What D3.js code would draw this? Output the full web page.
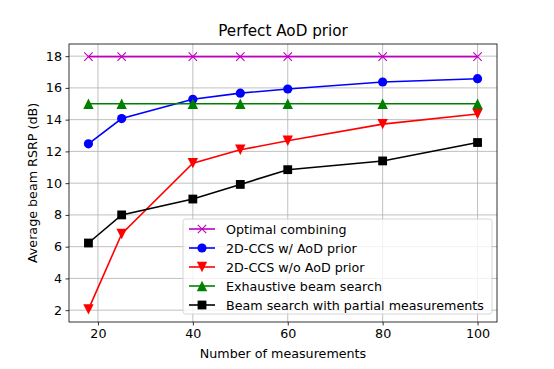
<!DOCTYPE html>
<html>
<head>
<meta charset="utf-8">
<script src="https://cdn.jsdelivr.net/npm/d3@7"></script>
<style>
  body { margin: 0; background: #fff; }
  text { font-family: "DejaVu Sans", sans-serif; }
</style>
</head>
<body>
<svg id="chart" width="554" height="369"></svg>
<script>
// measurement counts on the x axis
const measurements = [18, 25, 40, 50, 60, 80, 100];
const optimal = [17.97, 17.97, 17.97, 17.97, 17.97, 17.97, 17.97];
const ccsPrior = [12.48, 14.07, 15.28, 15.67, 15.93, 16.37, 16.58];
const ccsNoPrior = [2.05, 6.8, 11.26, 12.1, 12.67, 13.72, 14.36];
const exhaustive = [15.0, 15.0, 15.0, 15.0, 15.0, 15.0, 15.0];
const partial = [6.23, 8.0, 9.0, 9.92, 10.85, 11.4, 12.56];
const xTicks = [20, 40, 60, 80, 100];
const yTicks = [2, 4, 6, 8, 10, 12, 14, 16, 18];

const series = [
  { name: "Optimal combining", vals: optimal, color: "#bf00bf", marker: "x" },
  { name: "2D-CCS w/ AoD prior", vals: ccsPrior, color: "#0000ff", marker: "o" },
  { name: "2D-CCS w/o AoD prior", vals: ccsNoPrior, color: "#ff0000", marker: "v" },
  { name: "Exhaustive beam search", vals: exhaustive, color: "#008000", marker: "^" },
  { name: "Beam search with partial measurements", vals: partial, color: "#000000", marker: "s" }
];

const svg = d3.select("#chart");
const pLeft = 69, pRight = 497, pTop = 44, pBottom = 322;
const fs = "12.7px";

const x = d3.scaleLinear().domain([13.9, 104.1]).range([pLeft, pRight]);
const y = d3.scaleLinear().domain([1.255, 18.765]).range([pBottom, pTop]);

// grid
svg.append("g").selectAll("line").data(xTicks).join("line")
  .attr("x1", d => x(d)).attr("x2", d => x(d))
  .attr("y1", pTop).attr("y2", pBottom)
  .attr("stroke", "#b0b0b0").attr("stroke-width", 0.8);
svg.append("g").selectAll("line").data(yTicks).join("line")
  .attr("x1", pLeft).attr("x2", pRight)
  .attr("y1", d => y(d)).attr("y2", d => y(d))
  .attr("stroke", "#b0b0b0").attr("stroke-width", 0.8);

// axes
const xAxis = svg.append("g").attr("transform", "translate(0," + pBottom + ")")
  .call(d3.axisBottom(x).tickValues(xTicks).tickSize(3.5).tickPadding(3.5));
const yAxis = svg.append("g").attr("transform", "translate(" + pLeft + ",0)")
  .call(d3.axisLeft(y).tickValues(yTicks).tickSize(3.5).tickPadding(3.5));
[xAxis, yAxis].forEach(a => {
  a.select(".domain").remove();
  a.selectAll("text").style("font-size", fs).attr("fill", "#000")
    .style("font-family", "DejaVu Sans, sans-serif");
  a.selectAll("line").attr("stroke", "#000").attr("stroke-width", 0.8);
});

svg.append("rect").attr("x", pLeft).attr("y", pTop)
  .attr("width", pRight - pLeft).attr("height", pBottom - pTop)
  .attr("fill", "none").attr("stroke", "#000").attr("stroke-width", 0.8);

function drawMarker(g, type, cx, cy, color) {
  if (type === "o") {
    g.append("circle").attr("cx", cx).attr("cy", cy).attr("r", 4.6).attr("fill", color);
  } else if (type === "s") {
    g.append("rect").attr("x", cx - 4.4).attr("y", cy - 4.4).attr("width", 8.8).attr("height", 8.8).attr("fill", color);
  } else if (type === "v") {
    const s = 5.2;
    g.append("path").attr("d", `M${cx - s},${cy - s}L${cx + s},${cy - s}L${cx},${cy + s}Z`).attr("fill", color);
  } else if (type === "^") {
    const s = 5.2;
    g.append("path").attr("d", `M${cx - s},${cy + s}L${cx + s},${cy + s}L${cx},${cy - s}Z`).attr("fill", color);
  } else if (type === "x") {
    const s = 4.2;
    g.append("path").attr("d", `M${cx - s},${cy - s}L${cx + s},${cy + s}M${cx - s},${cy + s}L${cx + s},${cy - s}`)
      .attr("stroke", color).attr("stroke-width", 1.1).attr("fill", "none");
  }
}

const plot = svg.append("g");
const line = d3.line().x((d, i) => x(measurements[i])).y(d => y(d));
series.forEach(s => {
  const g = plot.append("g");
  g.append("path").datum(s.vals).attr("d", line)
    .attr("fill", "none").attr("stroke", s.color).attr("stroke-width", 1.6);
  s.vals.forEach((v, i) => drawMarker(g, s.marker, x(measurements[i]), y(v), s.color));
});

// legend
const lg = svg.append("g");
lg.append("rect").attr("x", 183).attr("y", 219).attr("width", 309).attr("height", 95).attr("rx", 2.5)
  .attr("fill", "#fff").attr("fill-opacity", 0.8).attr("stroke", "#cccccc").attr("stroke-width", 0.8);
series.forEach((s, i) => {
  const ry = 229 + i * 19;
  lg.append("line").attr("x1", 189).attr("x2", 215).attr("y1", ry).attr("y2", ry)
    .attr("stroke", s.color).attr("stroke-width", 1.6);
  drawMarker(lg, s.marker, 202, ry, s.color);
  lg.append("text").attr("x", 226).attr("y", ry).attr("dy", "0.36em")
    .style("font-size", fs).text(s.name);
});

// labels
svg.append("text").attr("x", (pLeft + pRight) / 2).attr("y", 35.5).attr("text-anchor", "middle")
  .style("font-size", "15.2px").text("Perfect AoD prior");
svg.append("text").attr("x", (pLeft + pRight) / 2).attr("y", 358).attr("text-anchor", "middle")
  .style("font-size", fs).text("Number of measurements");
svg.append("text").attr("transform", "translate(37," + ((pTop + pBottom) / 2) + ") rotate(-90)")
  .attr("text-anchor", "middle").style("font-size", fs).text("Average beam RSRP (dB)");
</script>
</body>
</html>
